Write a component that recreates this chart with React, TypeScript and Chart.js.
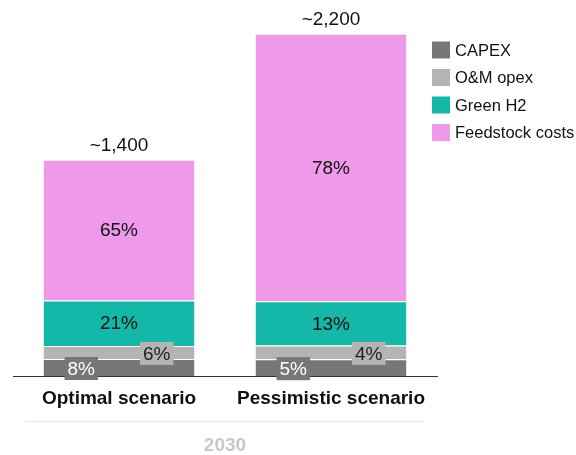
import React, { useEffect, useRef } from 'react';
import { Chart, registerables } from 'chart.js';

Chart.register(...registerables);

const categories = ['Optimal scenario', 'Pessimistic scenario'];
const groupLabel = '2030';
const seriesNames = ['CAPEX', 'O&M opex', 'Green H2', 'Feedstock costs'];
const capex = [112, 110];
const omOpex = [84, 88];
const greenH2 = [294, 286];
const feedstock = [910, 1730];
const colors = ['#777777', '#b4b4b4', '#14b8a9', '#ee99ea'];

const FONT = "'Liberation Sans', Arial, Helvetica, sans-serif";

const overlayPlugin = {
  id: 'overlayPlugin',
  afterDraw(chart: any) {
    const ctx = chart.ctx as CanvasRenderingContext2D;
    const ds = chart.data.datasets;
    const n = chart.data.labels.length;
    const totals: number[] = [];
    for (let j = 0; j < n; j++) {
      let s = 0;
      ds.forEach((d: any) => (s += d.data[j]));
      totals.push(s);
    }
    ctx.save();
    ctx.font = `19px ${FONT}`;
    ctx.textAlign = 'center';
    ctx.textBaseline = 'middle';
    ds.forEach((d: any, i: number) => {
      const meta = chart.getDatasetMeta(i);
      meta.data.forEach((bar: any, j: number) => {
        const { x, y, base, width } = bar.getProps(['x', 'y', 'base', 'width'], true);
        const pct = Math.round((d.data[j] / totals[j]) * 100) + '%';
        const h = base - y;
        const cy = (y + base) / 2;
        if (h > 30) {
          ctx.fillStyle = '#111111';
          ctx.fillText(pct, x, cy + 1);
        } else {
          const cx = x + (i === 0 ? -0.25 : 0.25) * width;
          const tw = ctx.measureText(pct).width;
          const bw = tw + 6;
          const bh = 23;
          ctx.fillStyle = d.backgroundColor;
          ctx.fillRect(cx - bw / 2, cy - bh / 2 + 1, bw, bh);
          ctx.fillStyle = i === 0 ? '#ffffff' : '#222222';
          ctx.fillText(pct, cx, cy + 2);
        }
      });
    });
    // totals above bars (rounded to the nearest hundred)
    const lastMeta = chart.getDatasetMeta(ds.length - 1);
    ctx.fillStyle = '#111111';
    lastMeta.data.forEach((bar: any, j: number) => {
      const t = Math.round(totals[j] / 100) * 100;
      ctx.fillText('~' + t.toLocaleString('en-US'), bar.x, bar.y - 14);
    });
    // group separator line
    const area = chart.chartArea;
    ctx.strokeStyle = '#e6e6e6';
    ctx.lineWidth = 1;
    ctx.beginPath();
    ctx.moveTo(area.left + 12, 421.5);
    ctx.lineTo(area.right - 12, 421.5);
    ctx.stroke();
    // legend
    ctx.font = `16.5px ${FONT}`;
    ctx.textAlign = 'left';
    ds.forEach((d: any, i: number) => {
      const cy = 50 + i * 27.5;
      ctx.fillStyle = d.backgroundColor;
      ctx.fillRect(432, cy - 8.5, 18, 17);
      ctx.fillStyle = '#111111';
      ctx.fillText(d.label, 455, cy + 1);
    });
    ctx.restore();
  },
};

export default function App() {
  const ref = useRef<HTMLCanvasElement>(null);
  useEffect(() => {
    document.body.style.margin = '0';
    const series = [capex, omOpex, greenH2, feedstock];
    const chart = new Chart(ref.current!, {
      type: 'bar',
      data: {
        labels: categories,
        datasets: series.map((vals, i) => ({
          label: seriesNames[i],
          data: vals,
          backgroundColor: colors[i],
          borderColor: '#ffffff',
          borderWidth: { top: 1, right: 0, bottom: 0, left: 0 },
          borderSkipped: false,
          barPercentage: 0.712,
          categoryPercentage: 1,
        })),
      },
      options: {
        responsive: false,
        animation: false,
        layout: { padding: { top: 5, left: 13, right: 139, bottom: 0 } },
        plugins: { legend: { display: false }, tooltip: { enabled: false } },
        scales: {
          x: {
            stacked: true,
            z: 1,
            grid: { display: false, drawTicks: false },
            border: { display: true, color: '#333333', width: 1 },
            ticks: {
              color: '#111111',
              padding: 11,
              font: { family: FONT, size: 19, weight: 'bold' },
            },
            title: {
              display: true,
              text: groupLabel,
              color: '#c8c8c8',
              padding: { top: 15, bottom: 0 },
              font: { family: FONT, size: 19, weight: 'bold', lineHeight: 1 },
            },
          },
          y: {
            stacked: true,
            display: false,
            min: 0,
            max: 2400,
          },
        },
      },
      plugins: [overlayPlugin],
    });
    return () => chart.destroy();
  }, []);
  return <canvas ref={ref} width={576} height={455} />;
}
